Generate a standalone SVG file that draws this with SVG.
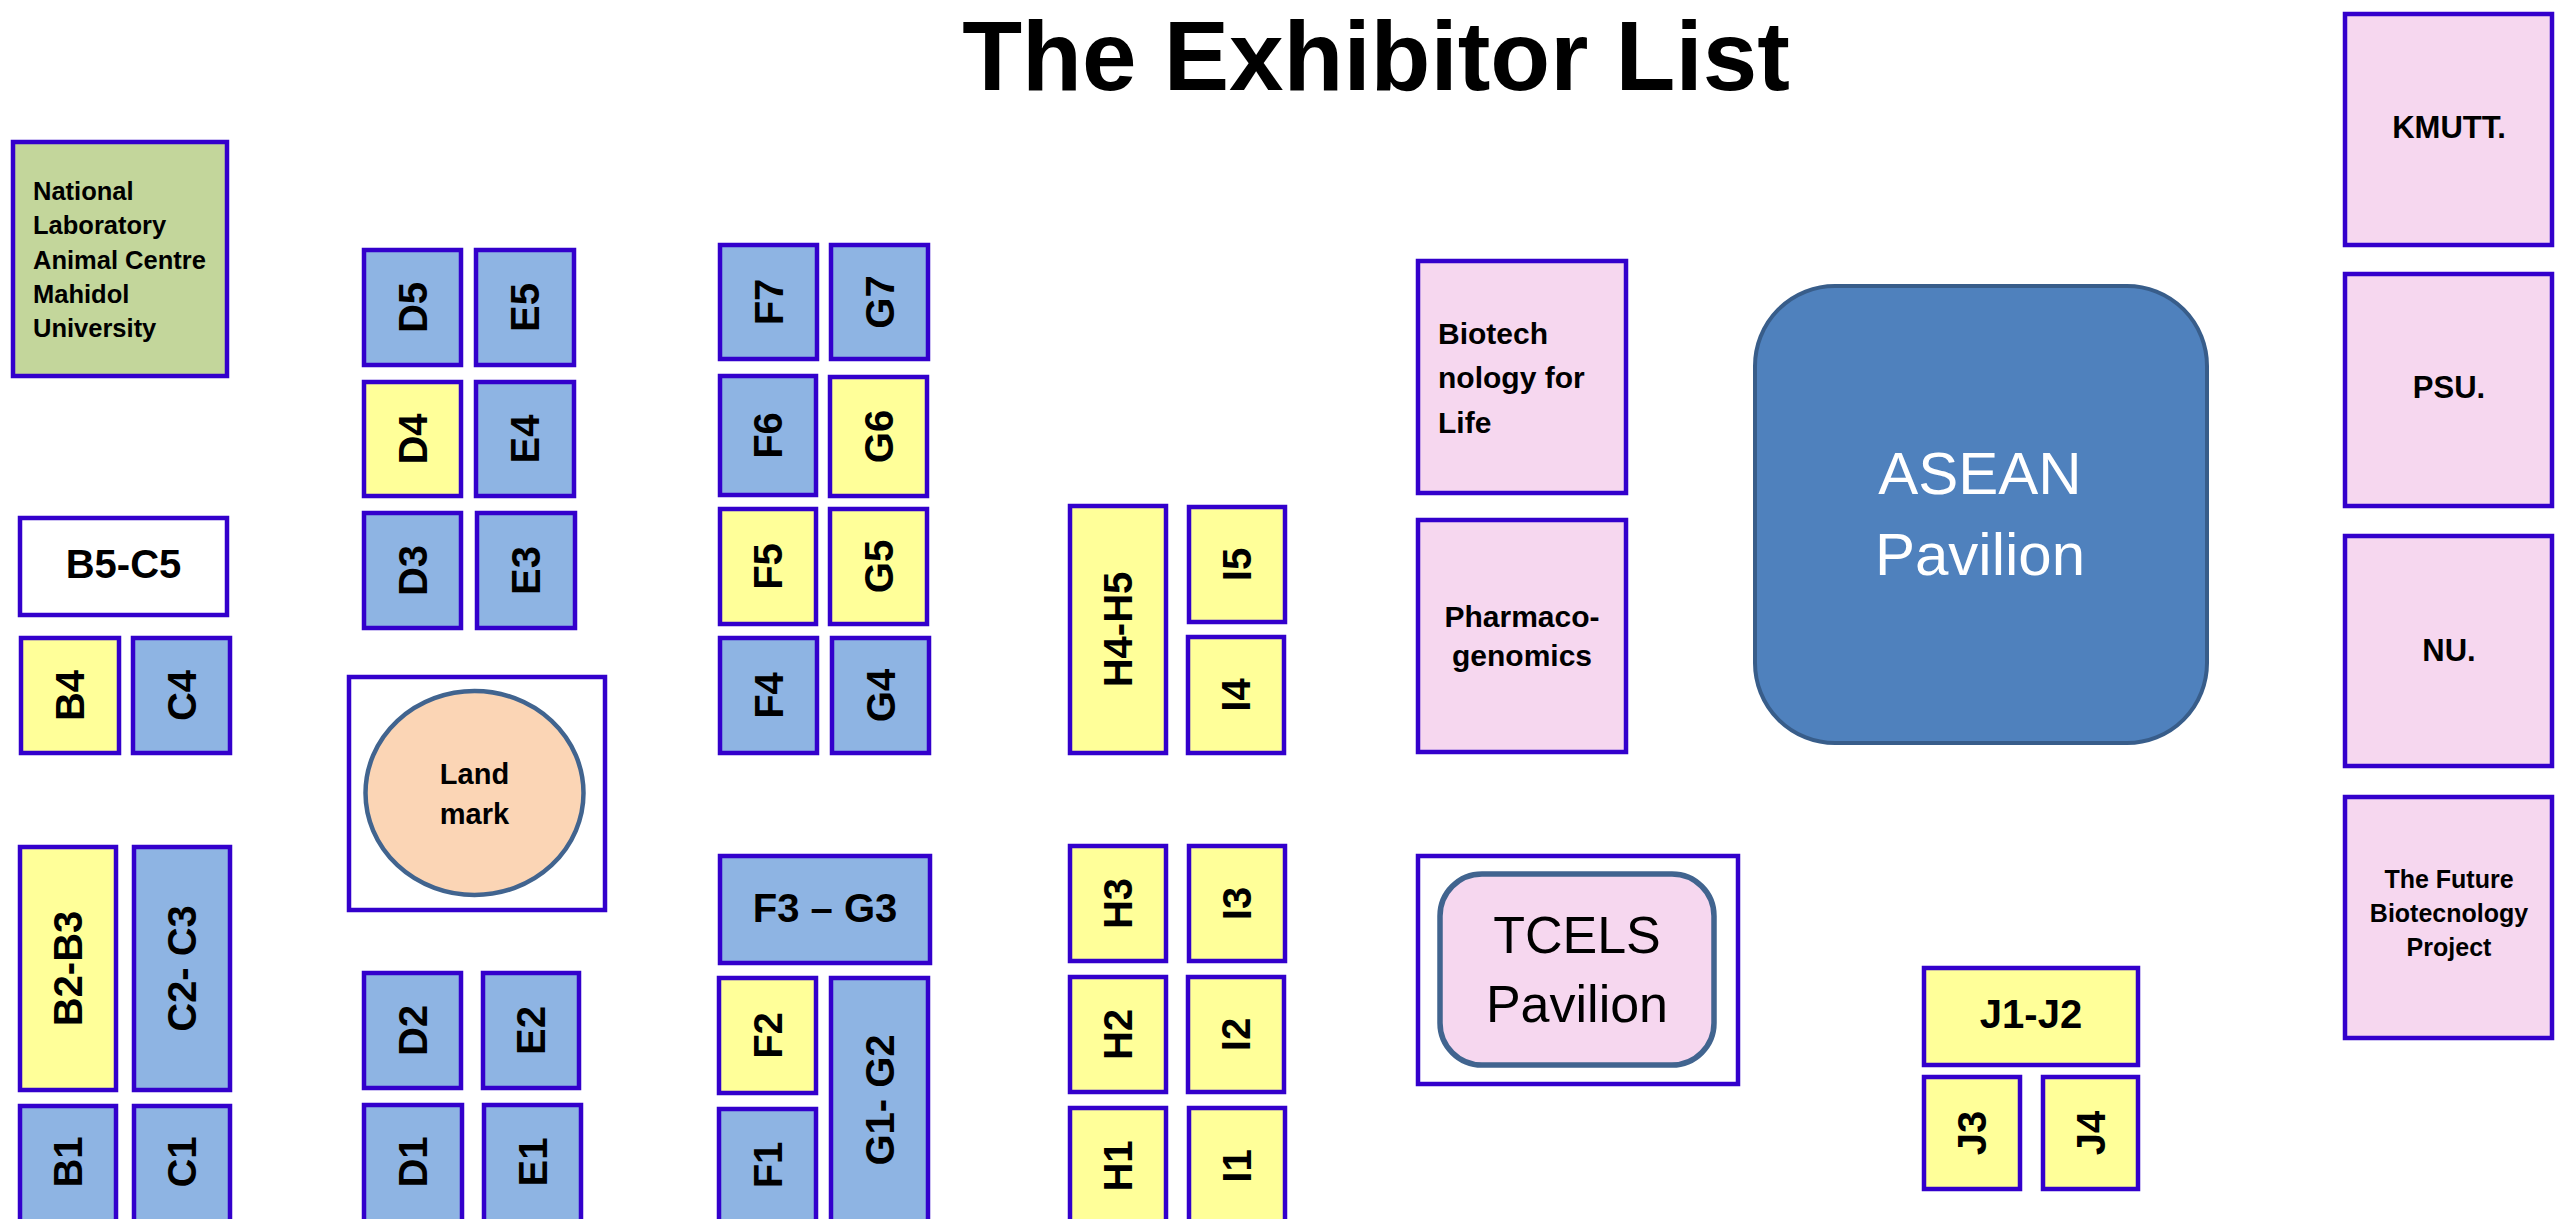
<svg xmlns="http://www.w3.org/2000/svg" width="2556" height="1219" viewBox="0 0 2556 1219">
<style>
.bg{fill:#ffffff}
.booth{stroke:#3300cc;stroke-width:4.5}
.blue{fill:#8eb4e3}
.yellow{fill:#ffff99}
.white{fill:#ffffff}
.pink{fill:#f6d7ef}
.green{fill:#c3d69b}
.t{font-family:"Liberation Sans",Arial,sans-serif;fill:#000}
.lbl{font-family:"Liberation Sans",Arial,sans-serif;font-weight:bold;font-size:40px;fill:#000;text-anchor:middle}
.b{font-weight:bold}
.mid{text-anchor:middle}
</style>
<rect class="bg" x="0" y="0" width="2556" height="1219"/>
<g id="title"><text class="t b mid" x="1376" y="90" font-size="98">The Exhibitor List</text></g>

<g id="national-lab"><rect class="booth green" x="13" y="142" width="214" height="234"/>
<text class="t b" font-size="25.5" x="33"><tspan x="33" y="200">National</tspan><tspan x="33" y="234.3">Laboratory</tspan><tspan x="33" y="268.6">Animal Centre</tspan><tspan x="33" y="302.9">Mahidol</tspan><tspan x="33" y="337.2">University</tspan></text></g>

<g id="B5-C5"><rect class="booth white" x="20" y="518" width="207" height="97"/><text class="lbl" x="123.5" y="578">B5-C5</text></g>
<g id="B4"><rect class="booth yellow" x="21" y="638" width="98" height="115"/><text class="lbl" transform="translate(70,695.5) rotate(-90)" y="14">B4</text></g>
<g id="C4"><rect class="booth blue" x="133" y="638" width="97" height="115"/><text class="lbl" transform="translate(181.5,695.5) rotate(-90)" y="14">C4</text></g>
<g id="B2-B3"><rect class="booth yellow" x="20" y="847" width="96" height="243"/><text class="lbl" transform="translate(68,968.5) rotate(-90)" y="14">B2-B3</text></g>
<g id="C2-C3"><rect class="booth blue" x="134" y="847" width="96" height="243"/><text class="lbl" transform="translate(182,968.5) rotate(-90)" y="14">C2- C3</text></g>
<g id="B1"><rect class="booth blue" x="20" y="1106" width="96" height="124"/><text class="lbl" transform="translate(68,1162) rotate(-90)" y="14">B1</text></g>
<g id="C1"><rect class="booth blue" x="134" y="1106" width="96" height="124"/><text class="lbl" transform="translate(182,1162) rotate(-90)" y="14">C1</text></g>

<g id="D5"><rect class="booth blue" x="364" y="250" width="97" height="115"/><text class="lbl" transform="translate(412.5,307.5) rotate(-90)" y="14">D5</text></g>
<g id="E5"><rect class="booth blue" x="476" y="250" width="98" height="115"/><text class="lbl" transform="translate(525,307.5) rotate(-90)" y="14">E5</text></g>
<g id="D4"><rect class="booth yellow" x="364" y="382" width="97" height="114"/><text class="lbl" transform="translate(412.5,439) rotate(-90)" y="14">D4</text></g>
<g id="E4"><rect class="booth blue" x="476" y="382" width="98" height="114"/><text class="lbl" transform="translate(525,439) rotate(-90)" y="14">E4</text></g>
<g id="D3"><rect class="booth blue" x="364" y="513" width="97" height="115"/><text class="lbl" transform="translate(412.5,570.5) rotate(-90)" y="14">D3</text></g>
<g id="E3"><rect class="booth blue" x="477" y="513" width="98" height="115"/><text class="lbl" transform="translate(526,570.5) rotate(-90)" y="14">E3</text></g>
<g id="landmark"><rect class="booth white" x="349" y="677" width="256" height="233"/>
<ellipse cx="474.5" cy="793" rx="109" ry="102" fill="#fbd5b5" stroke="#41648f" stroke-width="4.5"/>
<text class="t b mid" font-size="29"><tspan x="474.5" y="784">Land</tspan><tspan x="474.5" y="824">mark</tspan></text></g>
<g id="D2"><rect class="booth blue" x="364" y="973" width="97" height="115"/><text class="lbl" transform="translate(412.5,1030.5) rotate(-90)" y="14">D2</text></g>
<g id="E2"><rect class="booth blue" x="483" y="973" width="96" height="115"/><text class="lbl" transform="translate(531,1030.5) rotate(-90)" y="14">E2</text></g>
<g id="D1"><rect class="booth blue" x="364" y="1105" width="98" height="125"/><text class="lbl" transform="translate(413,1162) rotate(-90)" y="14">D1</text></g>
<g id="E1"><rect class="booth blue" x="484" y="1105" width="97" height="125"/><text class="lbl" transform="translate(532.5,1162) rotate(-90)" y="14">E1</text></g>

<g id="F7"><rect class="booth blue" x="720" y="245" width="97" height="114"/><text class="lbl" transform="translate(768.5,302) rotate(-90)" y="14">F7</text></g>
<g id="G7"><rect class="booth blue" x="831" y="245" width="97" height="114"/><text class="lbl" transform="translate(879.5,302) rotate(-90)" y="14">G7</text></g>
<g id="F6"><rect class="booth blue" x="720" y="376" width="96" height="119"/><text class="lbl" transform="translate(768,435.5) rotate(-90)" y="14">F6</text></g>
<g id="G6"><rect class="booth yellow" x="830" y="377" width="97" height="119"/><text class="lbl" transform="translate(878.5,436.5) rotate(-90)" y="14">G6</text></g>
<g id="F5"><rect class="booth yellow" x="720" y="509" width="96" height="115"/><text class="lbl" transform="translate(768,566.5) rotate(-90)" y="14">F5</text></g>
<g id="G5"><rect class="booth yellow" x="830" y="509" width="97" height="115"/><text class="lbl" transform="translate(878.5,566.5) rotate(-90)" y="14">G5</text></g>
<g id="F4"><rect class="booth blue" x="720" y="638" width="97" height="115"/><text class="lbl" transform="translate(768.5,695.5) rotate(-90)" y="14">F4</text></g>
<g id="G4"><rect class="booth blue" x="832" y="638" width="97" height="115"/><text class="lbl" transform="translate(880.5,695.5) rotate(-90)" y="14">G4</text></g>
<g id="F3-G3"><rect class="booth blue" x="720" y="856" width="210" height="107"/><text class="lbl" x="825" y="922">F3 – G3</text></g>
<g id="F2"><rect class="booth yellow" x="719" y="978" width="97" height="115"/><text class="lbl" transform="translate(767.5,1035.5) rotate(-90)" y="14">F2</text></g>
<g id="G1-G2"><rect class="booth blue" x="831" y="978" width="97" height="252"/><text class="lbl" transform="translate(879.5,1100) rotate(-90)" y="14">G1- G2</text></g>
<g id="F1"><rect class="booth blue" x="719" y="1109" width="97" height="121"/><text class="lbl" transform="translate(767.5,1165) rotate(-90)" y="14">F1</text></g>

<g id="H4-H5"><rect class="booth yellow" x="1070" y="506" width="96" height="247"/><text class="lbl" transform="translate(1118,629.5) rotate(-90)" y="14">H4-H5</text></g>
<g id="I5"><rect class="booth yellow" x="1189" y="507" width="96" height="115"/><text class="lbl" transform="translate(1237,564.5) rotate(-90)" y="14">I5</text></g>
<g id="I4"><rect class="booth yellow" x="1188" y="637" width="96" height="116"/><text class="lbl" transform="translate(1236,695) rotate(-90)" y="14">I4</text></g>
<g id="H3"><rect class="booth yellow" x="1070" y="846" width="96" height="115"/><text class="lbl" transform="translate(1118,903.5) rotate(-90)" y="14">H3</text></g>
<g id="I3"><rect class="booth yellow" x="1189" y="846" width="96" height="115"/><text class="lbl" transform="translate(1237,903.5) rotate(-90)" y="14">I3</text></g>
<g id="H2"><rect class="booth yellow" x="1070" y="977" width="96" height="115"/><text class="lbl" transform="translate(1118,1034.5) rotate(-90)" y="14">H2</text></g>
<g id="I2"><rect class="booth yellow" x="1188" y="977" width="96" height="115"/><text class="lbl" transform="translate(1236,1034.5) rotate(-90)" y="14">I2</text></g>
<g id="H1"><rect class="booth yellow" x="1070" y="1108" width="96" height="122"/><text class="lbl" transform="translate(1118,1166) rotate(-90)" y="14">H1</text></g>
<g id="I1"><rect class="booth yellow" x="1189" y="1108" width="96" height="122"/><text class="lbl" transform="translate(1237,1166) rotate(-90)" y="14">I1</text></g>

<g id="biotech-for-life"><rect class="booth pink" x="1418" y="261" width="208" height="232"/>
<text class="t b" font-size="30"><tspan x="1438" y="344">Biotech</tspan><tspan x="1438" y="388">nology for</tspan><tspan x="1438" y="433">Life</tspan></text></g>
<g id="pharmacogenomics"><rect class="booth pink" x="1418" y="520" width="208" height="232"/>
<text class="t b mid" font-size="30"><tspan x="1522" y="627">Pharmaco-</tspan><tspan x="1522" y="666">genomics</tspan></text></g>

<g id="asean-pavilion"><rect x="1755" y="286" width="452" height="457" rx="80" ry="80" fill="#4f81bd" stroke="#385d8a" stroke-width="4"/>
<text class="t mid" font-size="60" style="fill:#ffffff"><tspan x="1980" y="494">ASEAN</tspan><tspan x="1980" y="575">Pavilion</tspan></text></g>

<g id="tcels-pavilion"><rect class="booth white" x="1418" y="856" width="320" height="228"/>
<rect x="1440" y="874" width="274" height="191" rx="42" ry="42" fill="#f6d7ef" stroke="#41648f" stroke-width="5.5"/>
<text class="t mid" font-size="52"><tspan x="1577" y="953">TCELS</tspan><tspan x="1577" y="1022">Pavilion</tspan></text></g>

<g id="J1-J2"><rect class="booth yellow" x="1924" y="968" width="214" height="97"/><text class="lbl" x="2031" y="1028">J1-J2</text></g>
<g id="J3"><rect class="booth yellow" x="1924" y="1077" width="96" height="112"/><text class="lbl" transform="translate(1972,1133) rotate(-90)" y="14">J3</text></g>
<g id="J4"><rect class="booth yellow" x="2043" y="1077" width="95" height="112"/><text class="lbl" transform="translate(2090.5,1133) rotate(-90)" y="14">J4</text></g>

<g id="KMUTT"><rect class="booth pink" x="2345" y="14" width="207" height="231"/><text class="t b mid" font-size="31" x="2449" y="138">KMUTT.</text></g>
<g id="PSU"><rect class="booth pink" x="2345" y="274" width="207" height="232"/><text class="t b mid" font-size="31" x="2449" y="398">PSU.</text></g>
<g id="NU"><rect class="booth pink" x="2345" y="536" width="207" height="230"/><text class="t b mid" font-size="31" x="2449" y="661">NU.</text></g>
<g id="future-biotech"><rect class="booth pink" x="2345" y="797" width="207" height="241"/>
<text class="t b mid" font-size="25"><tspan x="2449" y="888">The Future</tspan><tspan x="2449" y="922">Biotecnology</tspan><tspan x="2449" y="956">Project</tspan></text></g>

<g id="connectors"></g>
</svg>
